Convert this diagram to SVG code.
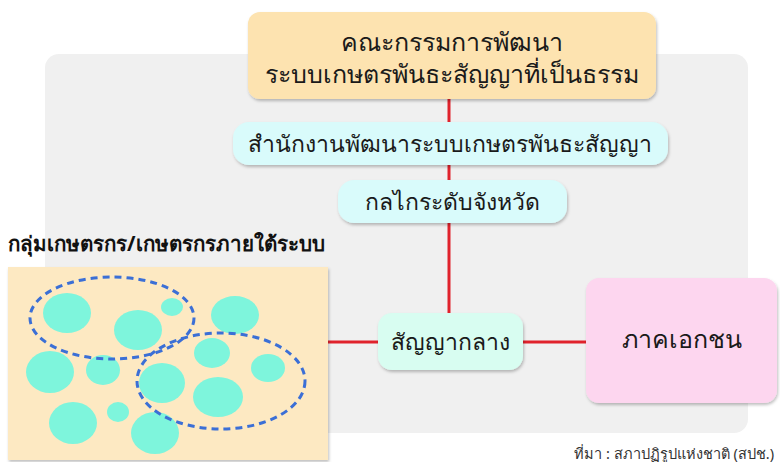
<svg xmlns="http://www.w3.org/2000/svg" width="780" height="462" viewBox="0 0 780 462">
<defs>
<filter id="sh" x="-10%" y="-10%" width="130%" height="140%">
<feDropShadow dx="1" dy="2" stdDeviation="1.5" flood-color="#000" flood-opacity="0.25"/>
</filter>
</defs>
<style>
.t{font-family:"Noto Sans","DejaVu Sans",sans-serif;fill:#1a1a1a;text-anchor:middle}
.ln{stroke:#e0222c;stroke-width:3;fill:none}
.dot{fill:#7ef5dc}
.ring{fill:none;stroke:#3b6fd6;stroke-width:3;stroke-dasharray:7 5}
</style>
<rect x="45" y="54" width="703" height="379" rx="14" fill="#f0f0f0"/>
<g id="connectors">
<line class="ln" x1="449" y1="98" x2="449" y2="315"/>
<line class="ln" x1="328" y1="342" x2="378" y2="342"/>
<line class="ln" x1="522" y1="342" x2="586" y2="342"/>
</g>
<g id="committee">
<rect x="248" y="12" width="408" height="87" rx="12" fill="#fde3b0" filter="url(#sh)"/>
<text class="t" x="452" y="51" font-size="25">คณะกรรมการพัฒนา</text>
<text class="t" x="452" y="83" font-size="25">ระบบเกษตรพันธะสัญญาที่เป็นธรรม</text>
</g>
<g id="office">
<rect x="233" y="122" width="435" height="43" rx="16" fill="#d9fbfb" filter="url(#sh)"/>
<text class="t" x="450" y="152" font-size="23">สำนักงานพัฒนาระบบเกษตรพันธะสัญญา</text>
</g>
<g id="province">
<rect x="338" y="180" width="229" height="43" rx="16" fill="#d9fbfb" filter="url(#sh)"/>
<text class="t" x="452" y="210" font-size="23">กลไกระดับจังหวัด</text>
</g>
<g id="contract">
<rect x="378" y="313" width="145" height="57" rx="14" fill="#d8fdf1" filter="url(#sh)"/>
<text class="t" x="450" y="350" font-size="23">สัญญากลาง</text>
</g>
<g id="private">
<rect x="586" y="278" width="191" height="125" rx="13" fill="#fdd6ef" filter="url(#sh)"/>
<text class="t" x="682" y="348" font-size="25">ภาคเอกชน</text>
</g>
<g id="farmers">
<text x="8" y="251" font-size="20.5" font-weight="bold" font-family="'Noto Sans','DejaVu Sans',sans-serif" fill="#111">กลุ่มเกษตรกร/เกษตรกรภายใต้ระบบ</text>
<rect x="8" y="267" width="320" height="193" fill="#fde9c2" filter="url(#sh)"/>
<ellipse class="dot" cx="67" cy="313" rx="24" ry="20"/>
<ellipse class="dot" cx="138" cy="330" rx="24" ry="20"/>
<ellipse class="dot" cx="172" cy="307" rx="11" ry="9"/>
<ellipse class="dot" cx="235" cy="315" rx="24" ry="19"/>
<ellipse class="dot" cx="50" cy="372" rx="24" ry="21"/>
<ellipse class="dot" cx="103" cy="370" rx="17" ry="15"/>
<ellipse class="dot" cx="212" cy="353" rx="18" ry="15"/>
<ellipse class="dot" cx="268" cy="368" rx="17" ry="14"/>
<ellipse class="dot" cx="162" cy="383" rx="23" ry="20"/>
<ellipse class="dot" cx="218" cy="397" rx="25" ry="20"/>
<ellipse class="dot" cx="73" cy="423" rx="24" ry="21"/>
<ellipse class="dot" cx="118" cy="412" rx="11" ry="10"/>
<ellipse class="dot" cx="155" cy="433" rx="24" ry="21"/>
<ellipse class="ring" cx="112" cy="318" rx="82" ry="41"/>
<ellipse class="ring" cx="221" cy="381" rx="84" ry="48"/>
</g>
<text x="774" y="459" font-size="14.5" text-anchor="end" font-family="'Noto Sans','DejaVu Sans',sans-serif" fill="#333" xml:space="preserve">ที่มา : สภาปฏิรูปแห่งชาติ (สปช.)</text>
</svg>
